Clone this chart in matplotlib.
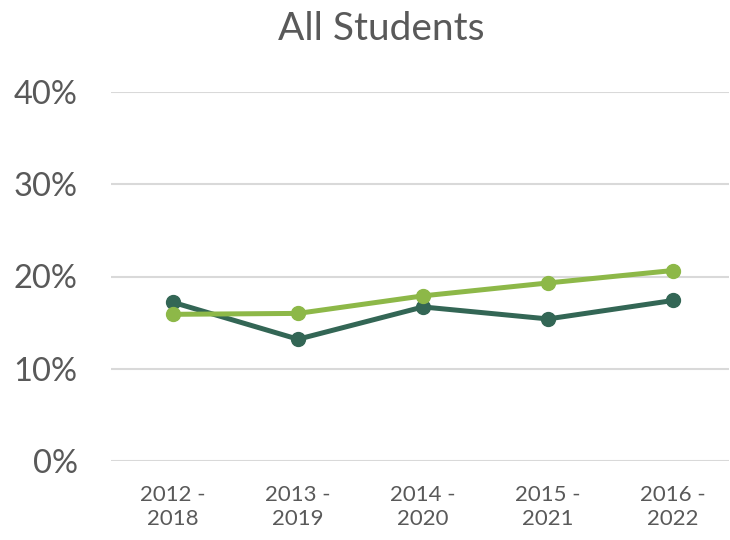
import matplotlib
matplotlib.use("Agg")
import matplotlib.pyplot as plt
from matplotlib.ticker import FuncFormatter

plt.rcParams['font.family'] = ['Lato', 'DejaVu Sans']

categories = ["2012 -\n2018", "2013 -\n2019", "2014 -\n2020", "2015 -\n2021", "2016 -\n2022"]
dark_series = [17.2, 13.2, 16.7, 15.4, 17.4]
light_series = [15.9, 16.0, 17.9, 19.3, 20.65]
y_ticks = [0, 10, 20, 30, 40]
title = "All Students"

dark_color = "#336655"
light_color = "#8db848"
text_color = "#595959"
grid_color = "#d9d9d9"

fig = plt.figure(figsize=(7.3, 5.4), dpi=100)
ax = fig.add_axes([111/730, 1-461/540, (729-111)/730, (461-92)/540])

x = list(range(len(categories)))
ax.plot(x, dark_series, color=dark_color, lw=3.6, marker='o', ms=10, zorder=3,
        solid_joinstyle='round')
ax.plot(x, light_series, color=light_color, lw=3.6, marker='o', ms=10, zorder=4,
        solid_joinstyle='round')

ax.set_xlim(-0.496, 4.448)
ax.set_ylim(0, 40)
ax.set_yticks(y_ticks)
ax.yaxis.set_major_formatter(FuncFormatter(lambda v, p: f"{int(v)}%"))
ax.set_xticks(x)
ax.set_xticklabels(categories, linespacing=1.3)

ax.grid(axis='y', color=grid_color, lw=1.5, zorder=0)
ax.set_axisbelow(True)
for s in ax.spines.values():
    s.set_visible(False)
ax.tick_params(axis='both', length=0)
ax.tick_params(axis='y', labelsize=23.5, labelcolor=text_color, pad=24)
ax.tick_params(axis='x', labelsize=16, labelcolor=text_color, pad=17)

fig.text(381/730, 1-29/540, title, ha='center', va='center', fontsize=28, color=text_color)

fig.savefig("out.png", dpi=100)
